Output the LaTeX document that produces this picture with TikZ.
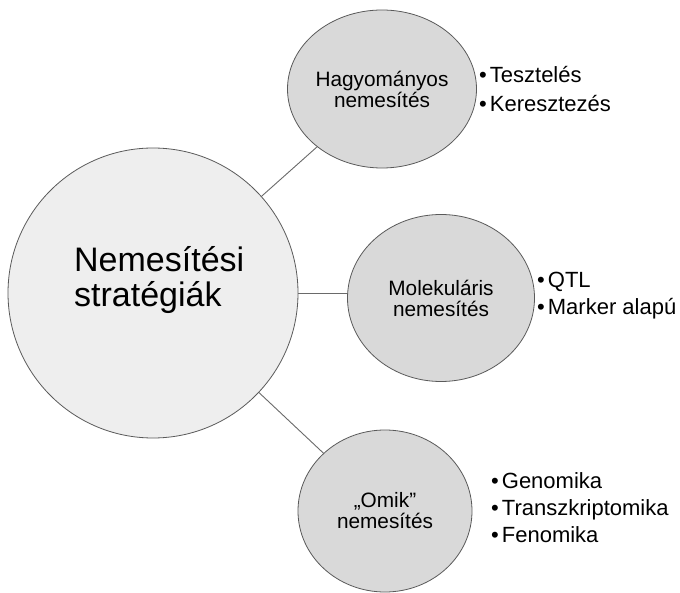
\documentclass[tikz,border=0pt]{standalone}
\usepackage{fontspec}
\setmainfont{Liberation Sans}
\usetikzlibrary{shapes.geometric}
\definecolor{linegray}{HTML}{5A5A5A}
\definecolor{conngray}{HTML}{6A6A6A}
\definecolor{bigfill}{HTML}{EEEEEE}
\definecolor{subfill}{HTML}{D9D9D9}
\newcommand{\bul}{•\hspace{3pt}}
\begin{document}
\begin{tikzpicture}[x=1pt,y=-1pt,
  bigc/.style={circle,draw=linegray,fill=bigfill,line width=0.8pt,minimum size=290pt,inner sep=0pt},
  subc/.style={ellipse,draw=linegray,fill=subfill,line width=0.8pt,inner sep=0pt,align=center,font=\fontsize{20.8}{21}\selectfont},
  conn/.style={draw=conngray,line width=0.9pt},
  item/.style={anchor=base west,inner sep=0pt,font=\fontsize{22}{24}\selectfont},
  bigtext/.style={anchor=base west,inner sep=0pt,font=\fontsize{34}{35}\selectfont}]
\useasboundingbox (0,0) rectangle (680,593);
\fill[white] (0,0) rectangle (680,593);
\node[bigc] (big) at (153,293) {};
\node[subc,minimum width=189pt,minimum height=158pt] (hag) at (382,89) {Hagyományos\\nemesítés};
\node[subc,minimum width=187pt,minimum height=167pt] (mol) at (441,298) {Molekuláris\\nemesítés};
\node[subc,minimum width=174pt,minimum height=162pt] (omik) at (385,511) {„Omik”\\nemesítés};
\draw[conn] (big) -- (hag);
\draw[conn] (big) -- (omik);
\draw[conn] (big.east) -- (big.east -| mol.west);
\node[bigtext] (t1) at (74,272) {Nemesítési};
\node[bigtext] (t2) at (74,307) {stratégiák};
\node[item] (h1) at (479,83) {\bul Tesztelés};
\node[item] (h2) at (479,112) {\bul Keresztezés};
\node[item] (m1) at (537,288) {\bul QTL};
\node[item] (m2) at (537,315) {\bul Marker alapú};
\node[item] (o1) at (491,488) {\bul Genomika};
\node[item] (o2) at (491,515) {\bul Transzkriptomika};
\node[item] (o3) at (491,542) {\bul Fenomika};
\end{tikzpicture}
\end{document}
